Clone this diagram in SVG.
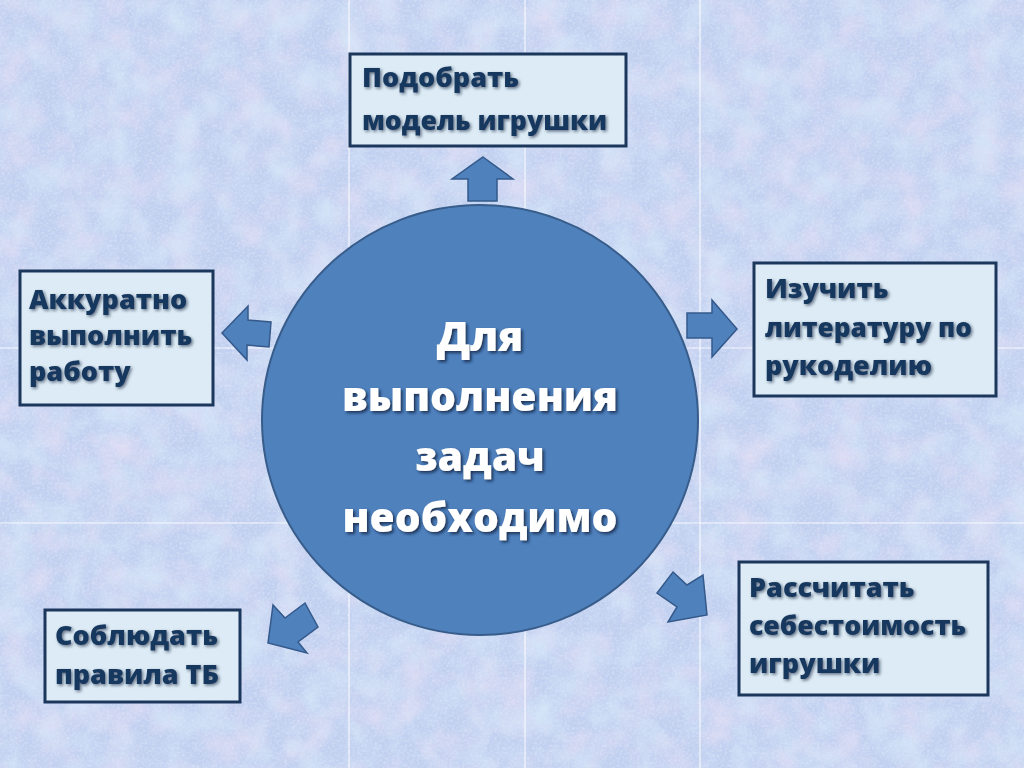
<svg xmlns="http://www.w3.org/2000/svg" width="1024" height="768" viewBox="0 0 1024 768">
<defs>
<filter id="tex" x="0" y="0" width="100%" height="100%">
<feTurbulence type="fractalNoise" baseFrequency="0.03" numOctaves="4" seed="7" result="n1"/>
<feColorMatrix in="n1" type="matrix" values="0 0 0 0 0.90  0 0 0 0 0.78  0 0 0 0 0.93  2.0 0 0 0 -0.85" result="pink"/>
<feColorMatrix in="n1" type="matrix" values="0 0 0 0 0.74  0 0 0 0 0.89  0 0 0 0 0.98  0 2.0 0 0 -0.85" result="cyan"/>
<feTurbulence type="fractalNoise" baseFrequency="0.4" numOctaves="2" seed="2" result="n2"/>
<feColorMatrix in="n2" type="matrix" values="0 0 0 0 0.88  0 0 0 0 0.92  0 0 0 0 1  1.4 0 0 0 -0.6" result="grain"/>
<feMerge><feMergeNode in="pink"/><feMergeNode in="cyan"/><feMergeNode in="grain"/></feMerge>
</filter>
<filter id="sh" x="-10%" y="-20%" width="130%" height="150%">
<feDropShadow dx="1.5" dy="1.5" stdDeviation="1.4" flood-color="#0b1d38" flood-opacity="0.6"/>
</filter>
<filter id="shw" x="-10%" y="-20%" width="130%" height="150%">
<feDropShadow dx="2" dy="2" stdDeviation="1.6" flood-color="#10243f" flood-opacity="0.8"/>
</filter>
<style>
.box{fill:#dcebf5;stroke:#1c375c;stroke-width:3}
.t{font-family:"Open Sans","Noto Sans","DejaVu Sans",sans-serif;font-weight:800;font-size:27px;fill:#17375e;filter:url(#sh)}
.c{font-family:"Open Sans","Noto Sans","DejaVu Sans",sans-serif;font-weight:800;font-size:41px;fill:#ffffff;text-anchor:middle;filter:url(#shw)}
.arr{fill:#4f81bd;stroke:#34598a;stroke-width:1.5;stroke-linejoin:miter}
.grid{stroke:#ffffff;stroke-width:1.2;opacity:0.8}
</style>
</defs>
<g id="background">
<rect x="0" y="0" width="1024" height="768" fill="#c1d0f0"/>
<rect x="0" y="0" width="1024" height="768" filter="url(#tex)" opacity="0.6"/>
<line class="grid" x1="349" y1="0" x2="349" y2="768"/>
<line class="grid" x1="525" y1="0" x2="525" y2="768"/>
<line class="grid" x1="700" y1="0" x2="700" y2="768"/>
<line class="grid" x1="0" y1="348" x2="1024" y2="348"/>
<line class="grid" x1="0" y1="523" x2="1024" y2="523"/>
</g>
<g id="connectors">
<polygon class="arr" points="483,157 513,179 497,179 497,201 468,201 468,179 452,179"/>
<polygon class="arr" points="687,313 712,313 712,300 737,329 712,357 712,338 687,338"/>
<polygon class="arr" points="222,333 248,306 248,320 271,322 269,347 247,345 247,360"/>
<polygon class="arr" points="673,572 687,585 703,575 707,615 668,622 677,607 657,593"/>
<polygon class="arr" points="268,643 273,605 285,618 305,603 318,627 298,642 307,653"/>
</g>
<g id="center">
<ellipse cx="480" cy="420" rx="218" ry="215" fill="#4f81bd" stroke="#385d8a" stroke-width="2"/>
<text class="c" x="480" y="351">Для</text>
<text class="c" x="480" y="411" textLength="276" lengthAdjust="spacingAndGlyphs">выполнения</text>
<text class="c" x="480" y="471">задач</text>
<text class="c" x="480" y="532" textLength="275" lengthAdjust="spacingAndGlyphs">необходимо</text>
</g>
<g id="node-top">
<rect class="box" x="350" y="54" width="276" height="92"/>
<text class="t" x="362" y="87">Подобрать</text>
<text class="t" x="362" y="130" textLength="245" lengthAdjust="spacingAndGlyphs">модель игрушки</text>
</g>
<g id="node-right">
<rect class="box" x="754" y="263" width="242" height="133"/>
<text class="t" x="765" y="298">Изучить</text>
<text class="t" x="765" y="337" textLength="207" lengthAdjust="spacingAndGlyphs">литературу по</text>
<text class="t" x="765" y="375">рукоделию</text>
</g>
<g id="node-left">
<rect class="box" x="20" y="271" width="193" height="134"/>
<text class="t" x="29" y="309">Аккуратно</text>
<text class="t" x="29" y="345">выполнить</text>
<text class="t" x="29" y="381">работу</text>
</g>
<g id="node-bottom-right">
<rect class="box" x="739" y="562" width="249" height="133"/>
<text class="t" x="749" y="597">Рассчитать</text>
<text class="t" x="749" y="635" textLength="217" lengthAdjust="spacingAndGlyphs">себестоимость</text>
<text class="t" x="749" y="673">игрушки</text>
</g>
<g id="node-bottom-left">
<rect class="box" x="45" y="610" width="195" height="92"/>
<text class="t" x="55" y="645">Соблюдать</text>
<text class="t" x="55" y="684">правила ТБ</text>
</g>
</svg>
